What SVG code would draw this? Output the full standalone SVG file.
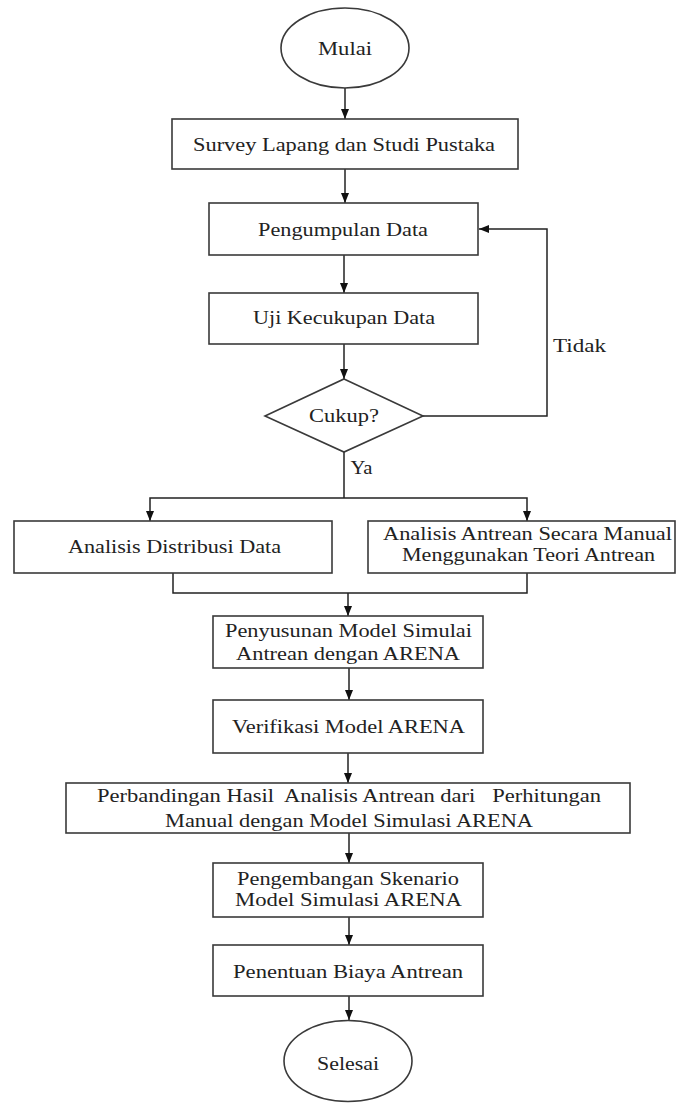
<svg xmlns="http://www.w3.org/2000/svg" width="676" height="1103" viewBox="0 0 676 1103">
<style>
.n{fill:#fff;stroke:#3a3a3a;stroke-width:1.6}
.t{font-family:"Liberation Serif","Times New Roman",serif;font-size:18px;fill:#222;text-anchor:middle;dominant-baseline:central}
.c{fill:none;stroke:#222;stroke-width:1.5}
</style>
<defs>
<marker id="ah" markerUnits="userSpaceOnUse" markerWidth="10" markerHeight="10" viewBox="0 0 10 10" refX="10" refY="5" orient="auto">
<path d="M0,1 L10,5 L0,9 Z" fill="#111"/>
</marker>
</defs>
<rect width="676" height="1103" fill="#fff"/>
<g id="connectors">
<line class="c" x1="345" y1="88" x2="345" y2="119" marker-end="url(#ah)"/>
<line class="c" x1="345" y1="169" x2="345" y2="203" marker-end="url(#ah)"/>
<line class="c" x1="344" y1="255" x2="344" y2="293" marker-end="url(#ah)"/>
<line class="c" x1="344" y1="344" x2="344" y2="379" marker-end="url(#ah)"/>
<polyline class="c" points="423,416 547,416 547,229 479,229" marker-end="url(#ah)"/>
<line class="c" x1="344" y1="452" x2="344" y2="498"/>
<polyline class="c" points="344,498 150,498 150,521" marker-end="url(#ah)"/>
<polyline class="c" points="344,498 527,498 527,521" marker-end="url(#ah)"/>
<polyline class="c" points="173,573 173,593 527,593 527,573"/>
<line class="c" x1="348" y1="593" x2="348" y2="616" marker-end="url(#ah)"/>
<line class="c" x1="349" y1="668" x2="349" y2="700" marker-end="url(#ah)"/>
<line class="c" x1="348" y1="753" x2="348" y2="783" marker-end="url(#ah)"/>
<line class="c" x1="349" y1="833" x2="349" y2="863" marker-end="url(#ah)"/>
<line class="c" x1="349" y1="917" x2="349" y2="945" marker-end="url(#ah)"/>
<line class="c" x1="349" y1="996" x2="349" y2="1020" marker-end="url(#ah)"/>
<text class="t" x="579.5" y="346" textLength="53" lengthAdjust="spacingAndGlyphs">Tidak</text>
<text class="t" x="361.5" y="468" textLength="22" lengthAdjust="spacingAndGlyphs">Ya</text>
</g>
<g id="mulai">
<ellipse class="n" cx="345" cy="48" rx="64" ry="40"/>
<text class="t" x="345" y="49" textLength="54" lengthAdjust="spacingAndGlyphs">Mulai</text>
</g>
<g id="survey">
<rect class="n" x="172" y="119" width="346" height="50"/>
<text class="t" x="344" y="145" textLength="302" lengthAdjust="spacingAndGlyphs">Survey Lapang dan Studi Pustaka</text>
</g>
<g id="pengumpulan">
<rect class="n" x="209" y="203" width="269" height="52"/>
<text class="t" x="343" y="230" textLength="170" lengthAdjust="spacingAndGlyphs">Pengumpulan Data</text>
</g>
<g id="uji">
<rect class="n" x="209" y="293" width="269" height="51"/>
<text class="t" x="344" y="318" textLength="182" lengthAdjust="spacingAndGlyphs">Uji Kecukupan Data</text>
</g>
<g id="cukup">
<polygon class="n" points="344,379 423,416 344,452 265,416"/>
<text class="t" x="344" y="416" textLength="70" lengthAdjust="spacingAndGlyphs">Cukup?</text>
</g>
<g id="distribusi">
<rect class="n" x="14" y="521" width="318" height="52"/>
<text class="t" x="174.5" y="547" textLength="213" lengthAdjust="spacingAndGlyphs">Analisis Distribusi Data</text>
</g>
<g id="manual">
<rect class="n" x="368" y="521" width="307" height="52"/>
<text class="t" x="527.5" y="534" textLength="289" lengthAdjust="spacingAndGlyphs">Analisis Antrean Secara Manual</text>
<text class="t" x="528.5" y="555" textLength="253" lengthAdjust="spacingAndGlyphs">Menggunakan Teori Antrean</text>
</g>
<g id="penyusunan">
<rect class="n" x="213" y="616" width="270" height="52"/>
<text class="t" x="348.5" y="631" textLength="247" lengthAdjust="spacingAndGlyphs">Penyusunan Model Simulai</text>
<text class="t" x="348" y="654" textLength="224" lengthAdjust="spacingAndGlyphs">Antrean dengan ARENA</text>
</g>
<g id="verifikasi">
<rect class="n" x="213" y="700" width="270" height="53"/>
<text class="t" x="348.5" y="727" textLength="233" lengthAdjust="spacingAndGlyphs">Verifikasi Model ARENA</text>
</g>
<g id="perbandingan">
<rect class="n" x="66" y="783" width="564" height="50"/>
<text class="t" x="349" y="796" textLength="504" lengthAdjust="spacingAndGlyphs" xml:space="preserve">Perbandingan Hasil  Analisis Antrean dari   Perhitungan</text>
<text class="t" x="349" y="821" textLength="368" lengthAdjust="spacingAndGlyphs">Manual dengan Model Simulasi ARENA</text>
</g>
<g id="pengembangan">
<rect class="n" x="213" y="863" width="270" height="54"/>
<text class="t" x="348" y="879" textLength="222" lengthAdjust="spacingAndGlyphs">Pengembangan Skenario</text>
<text class="t" x="348.5" y="900" textLength="227" lengthAdjust="spacingAndGlyphs">Model Simulasi ARENA</text>
</g>
<g id="penentuan">
<rect class="n" x="213" y="945" width="270" height="51"/>
<text class="t" x="348" y="972" textLength="230" lengthAdjust="spacingAndGlyphs">Penentuan Biaya Antrean</text>
</g>
<g id="selesai">
<ellipse class="n" cx="348" cy="1061" rx="64" ry="40.5"/>
<text class="t" x="348" y="1064" textLength="62" lengthAdjust="spacingAndGlyphs">Selesai</text>
</g>
</svg>
